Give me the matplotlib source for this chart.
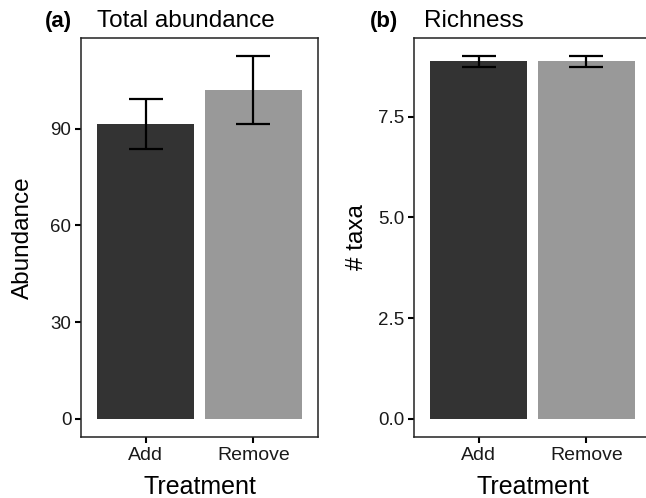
import numpy as np
import matplotlib.pyplot as plt

plt.rcParams['font.family'] = ['Liberation Sans', 'DejaVu Sans']

# --------------------
# Data
# --------------------
treatments = ["Add", "Remove"]
bar_colors = ["#333333", "#999999"]

abund_mean = np.array([91.5, 102.0])
abund_se = np.array([7.8, 10.5])

rich_mean = np.array([8.87, 8.87])
rich_se = np.array([0.13, 0.13])

abund_ticks = [0, 30, 60, 90]
rich_ticks = [0.0, 2.5, 5.0, 7.5]

# --------------------
# Plot
# --------------------
W, H = 646, 498
fig = plt.figure(figsize=(W / 100, H / 100), dpi=100)

ax1 = fig.add_axes([81 / W, 1 - 437 / H, 237 / W, 399 / H])
ax2 = fig.add_axes([414 / W, 1 - 437 / H, 237 / W, 399 / H])


def panel(ax, mean, se, ticks, fmt, ylabel, ylab_x, letter, letter_x, title, title_x):
    x = np.arange(1, len(treatments) + 1)
    ax.bar(x, mean, width=0.9, color=bar_colors, zorder=2)
    ax.errorbar(x, mean, yerr=se, fmt="none", ecolor="black",
                elinewidth=1.6, capsize=12.5, capthick=1.6, zorder=3)
    top = (mean + se).max()
    ax.set_ylim(-0.05 * top, 1.05 * top)
    ax.set_xlim(0.4, 2.6)
    ax.set_xticks(x)
    ax.set_xticklabels(treatments, fontsize=14, color="#1a1a1a")
    ax.set_yticks(ticks)
    ax.set_yticklabels([fmt.format(t) for t in ticks], fontsize=13.5, color="#1a1a1a")
    ax.tick_params(length=4, width=1.5, color="black", pad=3)
    for s in ax.spines.values():
        s.set_color("#222222")
        s.set_linewidth(1.1)
    ax.set_xlabel("Treatment", fontsize=18, labelpad=8)
    ax.set_ylabel(ylabel, fontsize=17.5, va="center")
    ax.yaxis.set_label_coords(ylab_x, 0.5)
    ax.text(letter_x, 1.016, letter, transform=ax.transAxes, fontsize=16,
            fontweight="bold", ha="left", va="bottom")
    ax.text(title_x, 1.016, title, transform=ax.transAxes, fontsize=17.5,
            ha="left", va="bottom")


panel(ax1, abund_mean, abund_se, abund_ticks, "{:.0f}", "Abundance", -0.245,
      "(a)", -0.152, "Total abundance", 0.068)
panel(ax2, rich_mean, rich_se, rich_ticks, "{:.1f}", "# taxa", -0.24,
      "(b)", -0.186, "Richness", 0.042)

plt.savefig("out.png", dpi=100)
